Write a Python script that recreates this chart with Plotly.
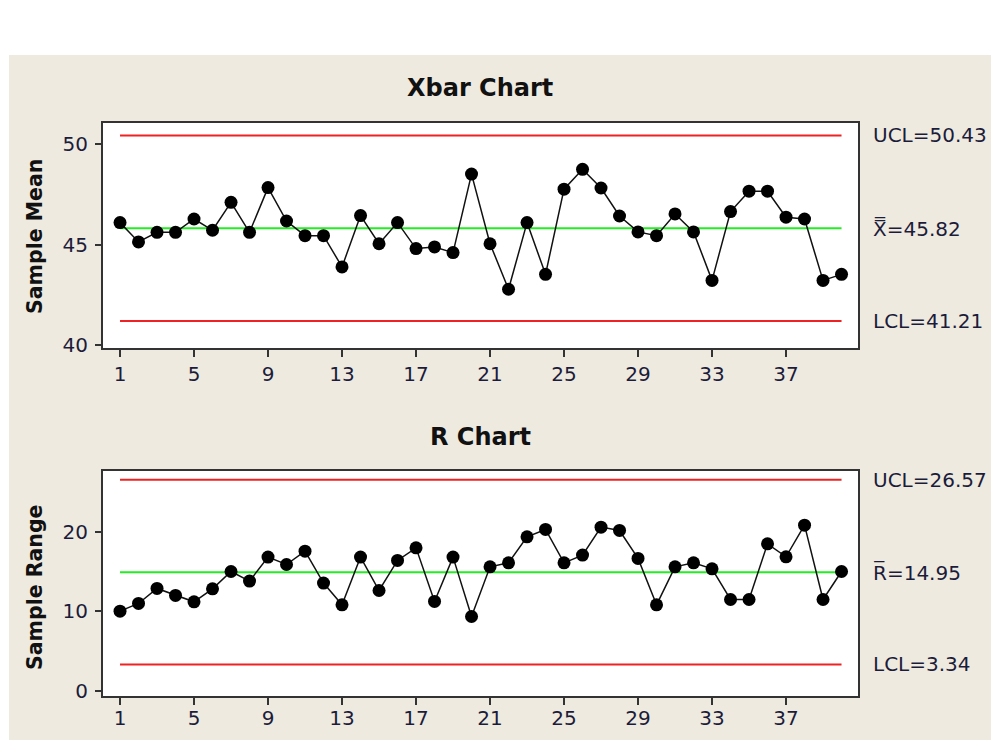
import plotly.graph_objects as go

# Subgroup numbers
samples = list(range(1, 41))

# Subgroup means (Xbar chart)
xbar_values = [
    46.10, 45.14, 45.62, 45.62, 46.28, 45.72, 47.11, 45.62, 47.84, 46.18,
    45.45, 45.45, 43.90, 46.45, 45.05, 46.10, 44.81, 44.89, 44.61, 48.51,
    45.05, 42.79, 46.10, 43.53, 47.76, 48.75, 47.82, 46.43, 45.64, 45.45,
    46.53, 45.64, 43.23, 46.65, 47.66, 47.66, 46.37, 46.28, 43.23, 43.53,
]

# Subgroup ranges (R chart)
range_values = [
    10.04, 11.01, 12.90, 12.02, 11.22, 12.85, 15.03, 13.82, 16.84, 15.91,
    17.59, 13.57, 10.84, 16.84, 12.64, 16.42, 18.01, 11.26, 16.84, 9.37,
    15.62, 16.12, 19.39, 20.32, 16.12, 17.09, 20.61, 20.19, 16.67, 10.84,
    15.62, 16.12, 15.37, 11.51, 11.51, 18.51, 16.88, 20.86, 11.51, 15.03,
]

# Control limits
xbar_limits = {"UCL": 50.43, "CL": 45.82, "LCL": 41.21}
r_limits = {"UCL": 26.57, "CL": 14.95, "LCL": 3.34}

x_tick_values = [1, 5, 9, 13, 17, 21, 25, 29, 33, 37]
xbar_y_ticks = [40, 45, 50]
r_y_ticks = [0, 10, 20]

# Layout grid is expressed on a 991x740 design; the page itself is a bit taller
W, H_DESIGN, H_PAGE = 991, 740, 749
BEIGE = "#EEEAE0"
TXT = "#1c1c3a"
FONT = "DejaVu Sans"


def px_x(p):
    return p / W


def px_y(p):
    return 1 - p / H_DESIGN


fig = go.Figure()


def add_chart(values, limits, xa, ya):
    first, last = samples[0], samples[-1]
    for key in ("UCL", "LCL"):
        fig.add_trace(go.Scatter(
            x=[first, last], y=[limits[key]] * 2, mode="lines",
            line=dict(color="#EE2222", width=2), xaxis=xa, yaxis=ya,
            showlegend=False, hoverinfo="skip"))
    fig.add_trace(go.Scatter(
        x=[first, last], y=[limits["CL"]] * 2, mode="lines",
        line=dict(color="#22EE22", width=2), xaxis=xa, yaxis=ya,
        showlegend=False, hoverinfo="skip"))
    fig.add_trace(go.Scatter(
        x=samples, y=values, mode="lines+markers",
        line=dict(color="#111111", width=1.5),
        marker=dict(color="#000000", size=13, symbol="circle"),
        xaxis=xa, yaxis=ya, showlegend=False))


add_chart(xbar_values, xbar_limits, "x", "y")
add_chart(range_values, r_limits, "x2", "y2")

x_domain = [px_x(103), px_x(858)]
axis_common = dict(
    showline=True, linecolor="#333333", linewidth=2, mirror=True,
    showgrid=False, zeroline=False, ticks="outside", tickcolor="#333333",
    tickwidth=1.5, tickfont=dict(family=FONT, size=20, color=TXT),
)
x_common = dict(domain=x_domain, range=[0.08, 40.89], tickvals=x_tick_values,
                ticklen=7, **axis_common)
y_common = dict(ticklen=6, ticklabelstandoff=3, **axis_common)

fig.update_layout(
    width=W, height=H_PAGE,
    margin=dict(l=0, r=0, t=0, b=0),
    paper_bgcolor=BEIGE, plot_bgcolor="white",
    xaxis=dict(anchor="y", ticklabelstandoff=0, **x_common),
    yaxis=dict(domain=[px_y(348), px_y(123)], range=[39.87, 51.05],
               tickvals=xbar_y_ticks, anchor="x", **y_common),
    xaxis2=dict(anchor="y2", ticklabelstandoff=-4, **x_common),
    yaxis2=dict(domain=[px_y(696), px_y(471)], range=[-0.63, 27.67],
                tickvals=r_y_ticks, anchor="x2", **y_common),
)

# White page area around the beige chart panel
fig.add_shape(type="rect", xref="paper", yref="paper", x0=0, x1=1,
              y0=px_y(55), y1=1, fillcolor="white", line_width=0, layer="below")
fig.add_shape(type="rect", xref="paper", yref="paper", x0=0, x1=px_x(9),
              y0=-0.05, y1=1, fillcolor="white", line_width=0, layer="below")

# Chart titles
for text, yc in (("Xbar Chart", 88), ("R Chart", 437)):
    fig.add_annotation(text=f"<b>{text}</b>", xref="paper", yref="paper",
                       x=px_x(480), y=px_y(yc), showarrow=False,
                       xanchor="center", yanchor="middle",
                       font=dict(family=FONT, size=24, color="#111111"))

# Y-axis titles
for text, yc in (("Sample Mean", 237), ("Sample Range", 587)):
    fig.add_annotation(text=f"<b>{text}</b>", xref="paper", yref="paper",
                       x=px_x(35), y=px_y(yc), showarrow=False, textangle=-90,
                       xanchor="center", yanchor="middle",
                       font=dict(family=FONT, size=20.5, color="#111111"))

# Control limit labels on the right
xbar_labels = [
    (f"UCL={xbar_limits['UCL']:.2f}", xbar_limits["UCL"]),
    (f"X\u033F={xbar_limits['CL']:.2f}", xbar_limits["CL"]),
    (f"LCL={xbar_limits['LCL']:.2f}", xbar_limits["LCL"]),
]
r_labels = [
    (f"UCL={r_limits['UCL']:.2f}", r_limits["UCL"]),
    (f"R\u0305={r_limits['CL']:.2f}", r_limits["CL"]),
    (f"LCL={r_limits['LCL']:.2f}", r_limits["LCL"]),
]
for labels, yref in ((xbar_labels, "y"), (r_labels, "y2")):
    for text, val in labels:
        fig.add_annotation(text=text, xref="paper", yref=yref,
                           x=px_x(871), y=val, showarrow=False,
                           xanchor="left", yanchor="middle",
                           font=dict(family=FONT, size=20, color=TXT))

fig.write_html("out.html")
